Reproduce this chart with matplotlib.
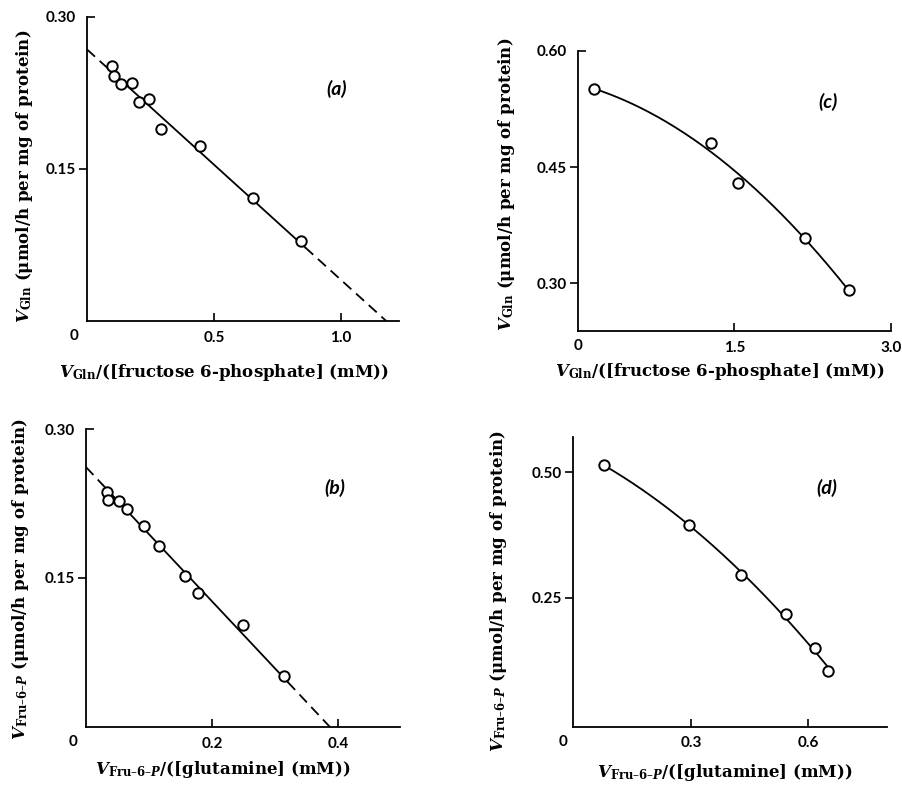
import numpy as np
import matplotlib
matplotlib.use('Agg')
import matplotlib.pyplot as plt

plt.rcParams['mathtext.fontset'] = 'dejavuserif'

# (a) Eadie-Hofstee, fructose 6-phosphate varied
a_x = [0.100, 0.108, 0.135, 0.178, 0.203, 0.244, 0.291, 0.446, 0.652, 0.844]
a_y = [0.2515, 0.2417, 0.234, 0.235, 0.2158, 0.219, 0.1893, 0.1723, 0.1212, 0.0789]
a_vmax, a_xint = 0.268, 1.178

# (b) Eadie-Hofstee, glutamine varied
b_x = [0.0328, 0.0354, 0.0518, 0.065, 0.092, 0.1157, 0.1575, 0.178, 0.249, 0.314]
b_y = [0.2369, 0.2289, 0.2279, 0.2195, 0.202, 0.1826, 0.1523, 0.1346, 0.103, 0.051]
b_vmax, b_xint = 0.2617, 0.387

# (c)
c_x = [0.16, 1.277, 1.535, 2.18, 2.595]
c_y = [0.550, 0.4805, 0.429, 0.359, 0.291]

# (d)
d_x = [0.0774, 0.2953, 0.427, 0.543, 0.617, 0.649]
d_y = [0.515, 0.395, 0.295, 0.2174, 0.149, 0.104]

lab_gln_y = r'$\mathbfit{V}_{\mathbf{Gln}}$ (μmol/h per mg of protein)'
lab_gln_x = r'$\mathbfit{V}_{\mathbf{Gln}}$/([fructose 6-phosphate] (mM))'
lab_fru_y = r'$\mathbfit{V}_{\mathbf{Fru–6–}\mathbfit{P}}$ (μmol/h per mg of protein)'
lab_fru_x = r'$\mathbfit{V}_{\mathbf{Fru–6–}\mathbfit{P}}$/([glutamine] (mM))'

fig = plt.figure(figsize=(9.03, 7.85), dpi=100)
ax_a = fig.add_axes([0.0963, 0.5911, 0.3455, 0.3873])
ax_b = fig.add_axes([0.0952, 0.0739, 0.3477, 0.3796])
ax_c = fig.add_axes([0.6397, 0.5783, 0.3470, 0.3571])
ax_d = fig.add_axes([0.6349, 0.0743, 0.3471, 0.3694])

tickfont = dict(family='Lato', size=11, weight='bold')
labfont = dict(family='DejaVu Serif', size=12, weight='bold')
mk = dict(marker='o', ms=7.5, mfc='white', mec='black', mew=1.4, ls='none', zorder=3)


def straight(ax, x, y, vmax, xint, pad):
    slope = -vmax / xint
    x0, x1 = min(x) - pad, max(x) + pad
    ax.plot([x0, x1], [vmax + slope * x0, vmax + slope * x1], 'k-', lw=1.3)
    ax.plot([0, x0], [vmax, vmax + slope * x0], 'k-', lw=1.3, dashes=(6, 3.5))
    ax.plot([x1, xint], [vmax + slope * x1, 0], 'k-', lw=1.3, dashes=(6, 3.5))
    ax.plot(x, y, **mk)


def curve(ax, x, y):
    p = np.polyfit(x, y, 2)
    xs = np.linspace(min(x), max(x), 200)
    ax.plot(xs, np.polyval(p, xs), 'k-', lw=1.3)
    ax.plot(x, y, **mk)


def style(ax, xlim, ylim, xticks, xlabels, yticks, ylabels, ytop, zero_dx,
          xlab, xlpos, ylab, ylpos, tag, tagpos):
    ax.set_xlim(*xlim)
    ax.set_ylim(*ylim)
    for s in ['top', 'right']:
        ax.spines[s].set_visible(False)
    for s in ['left', 'bottom']:
        ax.spines[s].set_linewidth(1.3)
    ax.set_xticks(xticks)
    ax.set_xticklabels(xlabels, fontdict=tickfont)
    ax.set_yticks(yticks)
    ax.set_yticklabels(ylabels, fontdict=tickfont)
    ax.tick_params(axis='x', direction='in', length=6, width=1.2, pad=7)
    ax.tick_params(axis='y', direction='out', length=6, width=1.2, pad=2)
    if ytop is not None:
        ax.set_yticks([ytop[0]], minor=True)
        ax.set_yticklabels([ytop[1]], minor=True, fontdict=tickfont)
        ax.tick_params(axis='y', which='minor', direction='in', length=6, width=1.2, pad=8)
    ax.annotate('0', xy=(0, 0), xycoords='axes fraction', xytext=(zero_dx, -8),
                textcoords='offset pixels', ha='center', va='top', **tickfont)
    ax.set_xlabel(xlab, **labfont)
    ax.xaxis.label.set_va('center')
    ax.xaxis.set_label_coords(*xlpos)
    ax.set_ylabel(ylab, **labfont)
    ax.yaxis.label.set_va('center')
    ax.yaxis.set_label_coords(*ylpos)
    ax.text(tagpos[0], tagpos[1], tag, family='Lato', style='italic', weight='bold',
            size=14, ha='center', va='center')


straight(ax_a, a_x, a_y, a_vmax, a_xint, 0.015)
style(ax_a, (0, 1.228), (0, 0.30), [0.5, 1.0], ['0.5', '1.0'], [0.15], ['0.15'],
      (0.30, '0.30'), -13, lab_gln_x, (0.439, -0.171), lab_gln_y, (-0.199, 0.477),
      '(a)', (0.984, 0.2286))

straight(ax_b, b_x, b_y, b_vmax, b_xint, 0.006)
style(ax_b, (0, 0.498), (0, 0.30), [0.2, 0.4], ['0.2', '0.4'], [0.15], ['0.15'],
      (0.30, '0.30'), -13, lab_fru_x, (0.436, -0.144), lab_fru_y, (-0.21, 0.497),
      '(b)', (0.395, 0.2406))

curve(ax_c, c_x, c_y)
style(ax_c, (0, 3.0), (0.2385, 0.60), [1.5, 3.0], ['1.5', '3.0'], [0.30, 0.45], ['0.30', '0.45'],
      (0.60, '0.60'), 0, lab_gln_x, (0.454, -0.146), lab_gln_y, (-0.226, 0.524),
      '(c)', (2.40, 0.534))

curve(ax_d, d_x, d_y)
style(ax_d, (0, 0.80), (-0.007, 0.571), [0.3, 0.6], ['0.3', '0.6'], [0.25, 0.50], ['0.25', '0.50'],
      None, -10, lab_fru_x, (0.484, -0.159), lab_fru_y, (-0.24, 0.466),
      '(d)', (0.647, 0.468))

plt.savefig('out.png', dpi=100)
